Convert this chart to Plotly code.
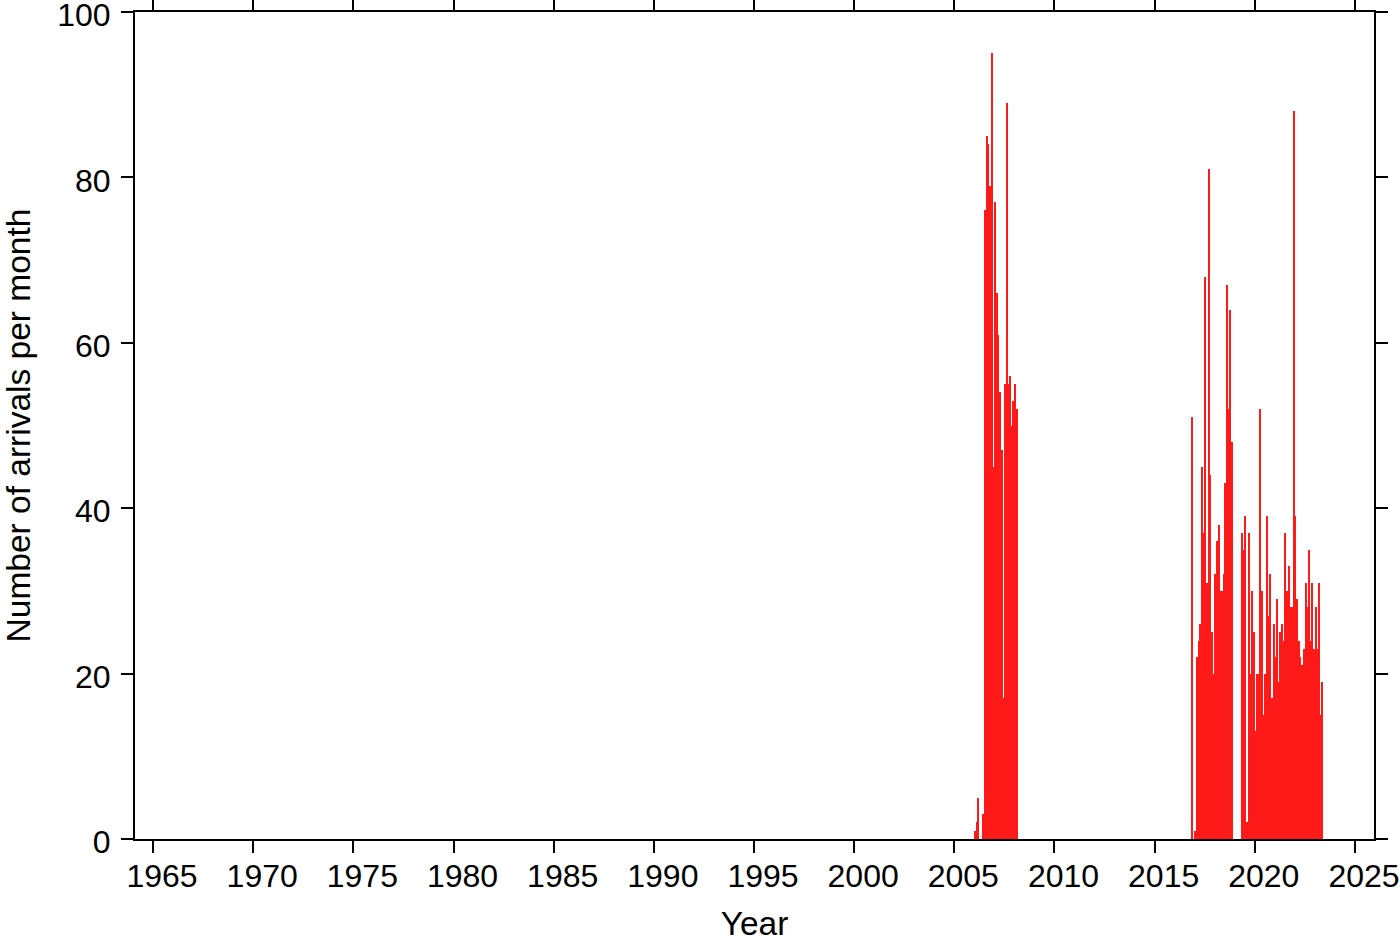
import plotly.graph_objects as go

# Monthly arrival counts (year-month, count)
months_2006 = ["2006-01", "2006-02", "2006-03", "2006-04", "2006-05", "2006-06",
               "2006-07", "2006-08", "2006-09", "2006-10", "2006-11", "2006-12",
               "2007-01", "2007-02", "2007-03", "2007-04", "2007-05", "2007-06",
               "2007-07", "2007-08", "2007-09", "2007-10", "2007-11", "2007-12",
               "2008-01", "2008-02"]
counts_2006 = [1, 2, 5, 0, 0, 3,
               76, 85, 84, 79, 95, 45,
               77, 66, 61, 54, 47, 17,
               55, 89, 55, 56, 50, 53,
               55, 52]

months_2016 = ["2016-11", "2016-12",
               "2017-01", "2017-02", "2017-03", "2017-04", "2017-05", "2017-06",
               "2017-07", "2017-08", "2017-09", "2017-10", "2017-11", "2017-12",
               "2018-01", "2018-02", "2018-03", "2018-04", "2018-05", "2018-06",
               "2018-07", "2018-08", "2018-09", "2018-10", "2018-11"]
counts_2016 = [51, 0,
               1, 22, 24, 26, 45, 37,
               68, 31, 81, 44, 25, 20,
               32, 36, 38, 30, 30, 32,
               43, 67, 52, 64, 48]

months_2019 = ["2019-05", "2019-06", "2019-07", "2019-08", "2019-09", "2019-10",
               "2019-11", "2019-12", "2020-01", "2020-02", "2020-03", "2020-04",
               "2020-05", "2020-06", "2020-07", "2020-08", "2020-09", "2020-10",
               "2020-11", "2020-12", "2021-01", "2021-02", "2021-03", "2021-04",
               "2021-05", "2021-06", "2021-07", "2021-08", "2021-09", "2021-10",
               "2021-11", "2021-12", "2022-01", "2022-02", "2022-03", "2022-04",
               "2022-05", "2022-06", "2022-07", "2022-08", "2022-09", "2022-10",
               "2022-11", "2022-12", "2023-01", "2023-02", "2023-03", "2023-04",
               "2023-05"]
counts_2019 = [37, 35, 39, 2, 37, 20,
               30, 25, 13, 20, 20, 52,
               30, 15, 20, 39, 27, 32,
               17, 26, 22, 29, 19, 25,
               26, 24, 37, 30, 33, 28,
               28, 88, 39, 29, 24, 22,
               21, 23, 31, 28, 35, 24,
               31, 23, 28, 23, 31, 15,
               19]

x_ticks = [1965, 1970, 1975, 1980, 1985, 1990, 1995, 2000, 2005, 2010, 2015, 2020, 2025]
y_ticks = [0, 20, 40, 60, 80, 100]

months = months_2006 + months_2016 + months_2019
counts = counts_2006 + counts_2016 + counts_2019


def to_decimal(ym):
    y, m = ym.split("-")
    return int(y) + (int(m) - 0.5) / 12.0


xs = [to_decimal(m) for m in months]

FONT = "Liberation Sans, Arial, Helvetica, sans-serif"
FS = 32
FT = 33.5

fig = go.Figure()
fig.add_trace(go.Bar(
    x=xs, y=counts, width=0.072,
    marker=dict(color="#ff1a1a", line=dict(width=0)),
    showlegend=False,
))

axis_common = dict(
    showline=True, linecolor="black", linewidth=2, mirror="ticks",
    ticks="outside", ticklen=12, tickwidth=1.5, tickcolor="black",
    showgrid=False, zeroline=False, automargin=False,
    ticklabeloverflow="allow",
    tickfont=dict(family=FONT, size=FS, color="black"),
)

fig.update_layout(
    width=1400, height=942,
    margin=dict(l=135, r=26, t=12, b=103),
    paper_bgcolor="white", plot_bgcolor="white",
    bargap=0,
    font=dict(family=FONT, color="black"),
    xaxis=dict(
        range=[1964.1, 2025.95], tickvals=x_ticks,
        ticktext=[str(t) for t in x_ticks],
        ticklabelstandoff=-4, ticklabelshift=9,
        title=dict(text="Year", font=dict(family=FONT, size=FT), standoff=41),
        **axis_common,
    ),
    yaxis=dict(
        range=[0, 100], tickvals=y_ticks,
        ticklabelstandoff=4, ticklabelshift=3,
        title=dict(text="Number of arrivals per month", font=dict(family=FONT, size=FT), standoff=48),
        **axis_common,
    ),
)

fig.write_html("out.html", config={"displayModeBar": False},
               post_script="document.body.style.margin='0';")
